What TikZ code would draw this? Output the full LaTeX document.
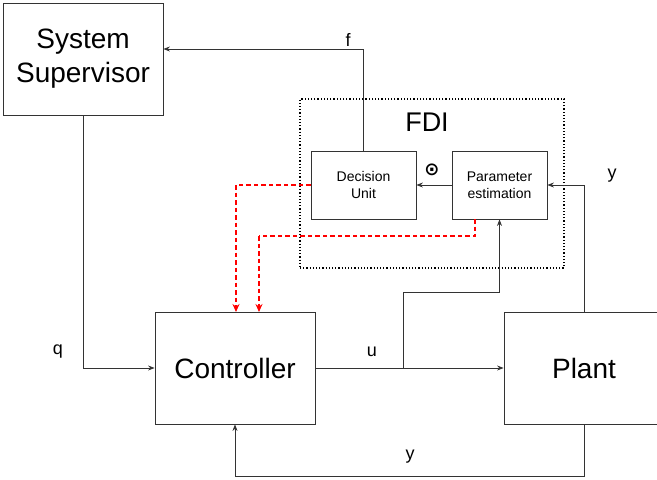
\documentclass[tikz,border=0pt]{standalone}
\usepackage{fontspec}
\setmainfont{Liberation Sans}
\newfontfamily\symfont{DejaVu Sans}
\usetikzlibrary{arrows.meta,calc}
\begin{document}
\begin{tikzpicture}[x=1pt,y=-1pt,
  blk/.style={draw=black!80,line width=0.8pt,inner sep=0pt,align=center},
  conn/.style={draw=black!80,line width=0.8pt},
  arr/.style={conn,-{Stealth[length=6.5pt,width=5pt]}},
  redarr/.style={draw=red,line width=1.4pt,dash pattern=on 4.5pt off 3pt,-{Stealth[length=8pt,width=7pt]}},
  redline/.style={draw=red,line width=1.4pt,dash pattern=on 4.5pt off 3pt},
  lbl/.style={font=\fontsize{18}{20}\selectfont}]
\useasboundingbox (0,0) rectangle (657,480);
\node[blk,minimum width=160pt,minimum height=112pt,font=\fontsize{28}{34}\selectfont] (SS) at (83,59) {System\\Supervisor};
\node[blk,minimum width=160pt,minimum height=112pt,font=\fontsize{28}{32}\selectfont] (C) at (235,368) {Controller};
\node[blk,minimum width=160pt,minimum height=112pt,font=\fontsize{28}{32}\selectfont] (P) at (584,368) {Plant};
\node[draw=black,line width=1.2pt,dotted,minimum width=264pt,minimum height=169pt,inner sep=0pt] (FDI) at (432,183.5) {};
\node[font=\fontsize{27}{30}\selectfont] (FDIlbl) at (427,122) {FDI};
\node[blk,minimum width=105pt,minimum height=68pt,font=\fontsize{14}{17}\selectfont] (DU) at (363.5,185) {Decision\\Unit};
\node[blk,minimum width=95pt,minimum height=68pt,font=\fontsize{14}{17}\selectfont] (PE) at (499.5,185) {Parameter\\estimation};
% connectors
\coordinate (fc) at (363.5,49);
\draw[arr] (DU.north) -- (fc) -- (SS.east |- fc);
\draw[arr] (SS.south) |- (C.west);
\draw[arr] (C.east) -- (P.west);
\coordinate (uj) at (403,368);
\coordinate (uk) at (403,292);
\draw[arr] (uj) -- (uk) -| (PE.south);
\draw[arr] (P.north) |- (PE.east);
\coordinate (yb) at (584,476);
\draw[arr] (P.south) -- (yb) -| (C.south);
\draw[arr] (PE.west) -- (DU.east);
% red dashed
\coordinate (r1) at (236,185);
\draw[redline] (DU.west) -- (r1);
\draw[redarr] (r1) -- (236,312);
\coordinate (r2a) at (475,219);
\coordinate (r2b) at (475,236);
\coordinate (r2c) at (259,236);
\draw[redline] (r2a) -- (r2b) -- (r2c);
\draw[redarr] (r2c) -- (259,312);
% labels
\node[lbl] (lf) at (348,40) {f};
\node[lbl] (lq) at (58,352) {q};
\node[lbl] (lu) at (372,352) {u};
\node[lbl] (ly1) at (612,176) {y};
\node[lbl] (ly2) at (410,457) {y};
\node[font=\symfont\bfseries\fontsize{18}{20}\selectfont] (th) at (432,170) {⊙};
\end{tikzpicture}
\end{document}
